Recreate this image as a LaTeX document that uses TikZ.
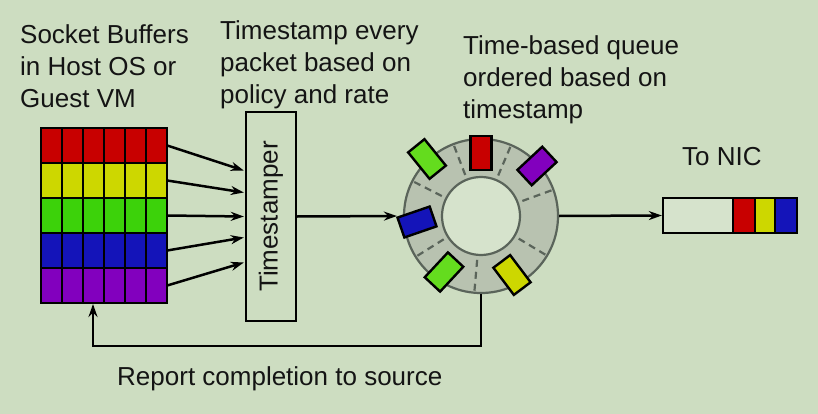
\documentclass[tikz,border=0pt]{standalone}
\usepackage{fontspec}
\setmainfont{Liberation Sans}
\usetikzlibrary{arrows.meta,calc}
\definecolor{bg}{RGB}{205,221,193}
\definecolor{ringc}{RGB}{184,194,176}
\definecolor{ringl}{RGB}{90,100,90}
\definecolor{holec}{RGB}{214,227,204}
\definecolor{cred}{RGB}{200,0,0}
\definecolor{cyel}{RGB}{205,215,0}
\definecolor{cgrn}{RGB}{60,210,10}
\definecolor{cblu}{RGB}{20,20,185}
\definecolor{cpur}{RGB}{130,0,190}
\definecolor{cpgrn}{RGB}{100,220,30}
\definecolor{txt}{RGB}{20,20,20}
\begin{document}
\begin{tikzpicture}[x=1pt,y=-1pt,
  lbl/.style={font=\fontsize{26}{32}\selectfont, align=left, inner sep=0pt, text=txt},
  cell/.style={draw=black, line width=2.4pt, minimum width=21pt, minimum height=35pt, inner sep=0pt},
  conn/.style={line width=2.5pt, -{Stealth[length=13pt,width=9pt]}},
  pkt/.style={draw=black, line width=2.4pt, minimum width=21pt, minimum height=34pt, inner sep=0pt},
  ticks/.style={draw=ringl, line width=2.2pt, dash pattern=on 7pt off 5pt}]
\fill[bg] (0,0) rectangle (818,414);
\useasboundingbox (0,0) rectangle (818,414);

% socket buffers grid
\foreach \c [count=\i] in {cred,cyel,cgrn,cblu,cpur} {
  \foreach \j in {1,...,6} {
    \node[cell, fill=\c] (cell-\i-\j) at ({41+21*(\j-0.5)}, {128+35*(\i-0.5)}) {};
  }
  \node[inner sep=0pt, minimum width=126pt, minimum height=35pt] (row\i) at (104, {128+35*(\i-0.5)}) {};
}
\node[draw=black, line width=2.8pt, minimum width=126pt, minimum height=175pt, inner sep=0pt] (grid) at (104,215.5) {};

% timestamper
\node[draw=black, line width=2.4pt, fill=bg, minimum width=50pt, minimum height=209pt, inner sep=0pt] (ts) at (271,216.5) {};
\node[lbl, rotate=90] (tslbl) at (ts.center) {Timestamper};

\draw[conn] (row1.east) -- ($(ts.west)+(-1,-46)$);
\draw[conn] (row2.east) -- ($(ts.west)+(-1,-24)$);
\draw[conn] (row3.east) -- ($(ts.west)+(-1,0)$);
\draw[conn] (row4.east) -- ($(ts.west)+(-1,21)$);
\draw[conn] (row5.east) -- ($(ts.west)+(-1,46)$);

% ring queue
\node[circle, draw=ringl, line width=2.2pt, fill=ringc, minimum size=154pt, inner sep=0pt] (ring) at (481,216) {};
\node[circle, draw=ringl, line width=2.2pt, fill=holec, minimum size=78pt, inner sep=0pt] (hole) at (481,216) {};
\foreach \a in {20,67,111,153,212,265,329}
  \draw[ticks] ($(ring.center)+(-\a:44)$) -- ($(ring.center)+(-\a:75)$);

\node[pkt, fill=cred] (pred) at (481,153) {};
\node[pkt, fill=cpur, rotate=-47] (ppur) at (537,166) {};
\node[pkt, fill=cpgrn, rotate=39] (pgrn1) at (427,159) {};
\node[pkt, fill=cblu, rotate=-71] (pblu) at (417,222) {};
\node[pkt, fill=cpgrn, rotate=-43] (pgrn2) at (444,272) {};
\node[pkt, fill=cyel, rotate=37] (pyel) at (512,275) {};

\draw[conn, shorten >=6pt] (ts.east) -- (ring.west);

% NIC
\node[draw=black, line width=2.4pt, fill=holec, minimum width=134pt, minimum height=35pt, inner sep=0pt] (nic) at (730,215.5) {};
\node[draw=black, line width=2.4pt, fill=cred, minimum width=22pt, minimum height=35pt, inner sep=0pt] (nicr) at (744,215.5) {};
\node[draw=black, line width=2.4pt, fill=cyel, minimum width=20pt, minimum height=35pt, inner sep=0pt] (nicy) at (765,215.5) {};
\node[draw=black, line width=2.4pt, fill=cblu, minimum width=22pt, minimum height=35pt, inner sep=0pt] (nicb) at (786,215.5) {};
\draw[conn] (ring.east) -- (nic.west);

% feedback
\coordinate (fbend) at (93,304);
\draw[conn] (ring.south) |- (fbend |- 0,346) -- (fbend);

% labels
\node[lbl, anchor=north west] (l1) at (20,24) {Socket Buffers\\in Host OS or\\Guest VM};
\node[lbl, anchor=north west] (l2) at (220,20) {Timestamp every\\packet based on\\policy and rate};
\node[lbl, anchor=north west] (l3) at (463,35) {Time-based queue\\ordered based on\\timestamp};
\node[lbl, anchor=base west] (l4) at (682,165) {To NIC};
\node[lbl, anchor=base west] (l5) at (117,385) {Report completion to source};
\end{tikzpicture}
\end{document}
